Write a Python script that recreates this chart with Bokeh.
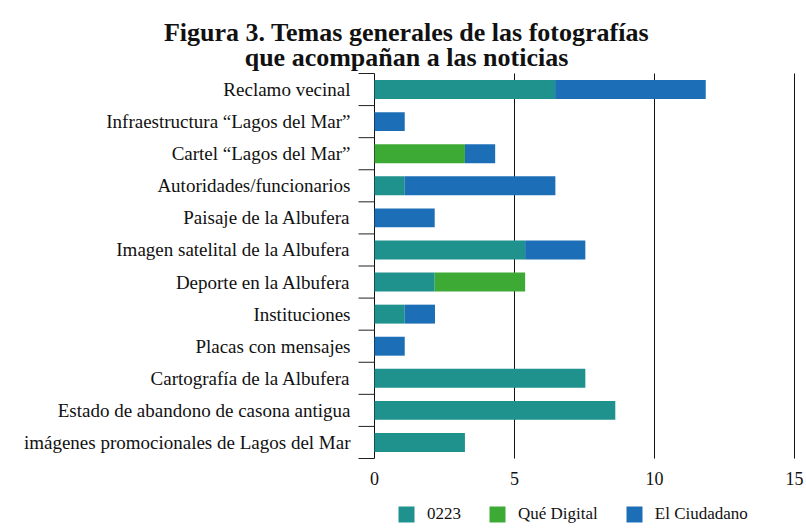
from bokeh.plotting import figure
from bokeh.models import ColumnDataSource, Range1d, Label, Legend, LegendItem
from bokeh.core.properties import value
from bokeh.embed import file_html
from bokeh.resources import INLINE

categories = [
    "Reclamo vecinal",
    "Infraestructura “Lagos del Mar”",
    "Cartel “Lagos del Mar”",
    "Autoridades/funcionarios",
    "Paisaje de la Albufera",
    "Imagen satelital de la Albufera",
    "Deporte en la Albufera",
    "Instituciones",
    "Placas con mensajes",
    "Cartografía de la Albufera",
    "Estado de abandono de casona antigua",
    "imágenes promocionales de Lagos del Mar",
]
series_names = ["0223", "Qué Digital", "El Ciudadano"]
s_0223 = [6.45, 0, 0, 1.08, 0, 5.38, 2.15, 1.08, 0, 7.53, 8.60, 3.23]
s_que = [0, 0, 3.23, 0, 0, 0, 3.23, 0, 0, 0, 0, 0]
s_ciudadano = [5.38, 1.08, 1.08, 5.38, 2.15, 2.15, 0, 1.08, 1.08, 0, 0, 0]
x_ticks = [0, 5, 10, 15]
x_tick_labels = ["0", "5", "10", "15"]
title_lines = ["Figura 3. Temas generales de las fotografías",
               "que acompañan a las noticias"]

colors = ["#1F928E", "#3DAA35", "#1C6FB7"]
FONT = "Liberation Serif"
INK = "#111111"

# layout constants (pixels)
W, H = 806, 528
PX_X0, PX_X15 = 374, 794        # pixel columns of x = 0 and x = 15
PX_TOP, PX_BOTTOM = 73, 458     # pixel rows of the category area
TICK_LEN = 16

n = len(categories)
centers = [n - i - 0.5 for i in range(n)]  # first category at the top

sx = (PX_X15 - PX_X0) / 15.0
sy = (PX_BOTTOM - PX_TOP) / n
x_range = Range1d(-PX_X0 / sx, (W - PX_X0) / sx)
y_range = Range1d(-(H - PX_BOTTOM) / sy, n + PX_TOP / sy)

source = ColumnDataSource(dict(y=centers, a=s_0223, b=s_que, c=s_ciudadano))

p = figure(width=W, height=H, output_backend="svg", toolbar_location=None,
           x_range=x_range, y_range=y_range,
           x_axis_location=None, y_axis_location=None,
           min_border_left=0, min_border_right=0, min_border_top=0, min_border_bottom=0)
p.outline_line_color = None
p.background_fill_color = "white"
p.grid.visible = False

# vertical grid lines at the x ticks (the one at 0 is the axis line)
p.segment(x0=x_ticks, x1=x_ticks, y0=[0] * len(x_ticks), y1=[n] * len(x_ticks),
          line_color=INK, line_width=1)

# category boundary ticks on the left
bounds = list(range(n + 1))
p.segment(x0=[0] * len(bounds), x1=[-TICK_LEN / sx] * len(bounds), y0=bounds, y1=bounds,
          line_color="#222222", line_width=1)

renderers = p.hbar_stack(["a", "b", "c"], y="y", height=0.59, color=colors,
                         source=source, line_width=0)

# category labels
p.text(x=[0] * n, y=centers, text=categories, x_offset=-24,
       text_align="right", text_baseline="middle",
       text_font=value(FONT), text_font_size=value("19px"), text_color=INK)

# x tick labels
p.text(x=x_ticks, y=[0] * len(x_ticks), text=x_tick_labels, y_offset=20,
       text_align="center", text_baseline="middle",
       text_font=value(FONT), text_font_size=value("18px"), text_color=INK)

# legend
legend = Legend(items=[LegendItem(label=nm, renderers=[r])
                       for nm, r in zip(series_names, renderers)])
legend.orientation = "horizontal"
legend.location = (396, 4)
legend.glyph_width = 20
legend.glyph_height = 20
legend.label_height = 20
legend.label_standoff = 11
legend.spacing = 26
legend.padding = 0
legend.margin = 0
legend.border_line_color = None
legend.background_fill_alpha = 0
legend.label_text_font = FONT
legend.label_text_font_size = "17px"
legend.label_text_color = INK
p.add_layout(legend)

# title (two centred lines)
for txt, base in zip(title_lines, [31.7, 56.7]):
    p.add_layout(Label(x=406, y=H - base, x_units="screen", y_units="screen",
                       text=txt, text_align="center", text_baseline="alphabetic",
                       text_font=FONT, text_font_size="26px", text_font_style="bold",
                       text_color=INK))

open("out.html", "w").write(file_html(p, INLINE))
